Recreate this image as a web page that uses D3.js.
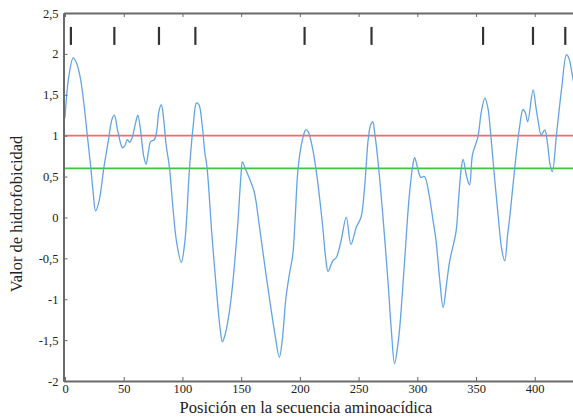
<!DOCTYPE html>
<html>
<head>
<meta charset="utf-8">
<script src="https://cdn.jsdelivr.net/npm/d3@7"></script>
<style>
  body { margin: 0; background: #fff; }
  svg text { font-family: "Liberation Serif", "DejaVu Serif", serif; fill: #222; }
</style>
</head>
<body>
<div id="chart"></div>
<script>
// residue position and hydrophobicity value
var positions = [0, 3, 7, 10, 13, 16, 19, 22, 24, 26, 29, 33, 37, 40, 42, 45, 49, 51, 53, 55,
    57, 60, 62, 64, 67, 69, 71, 73, 76, 78, 80, 82, 84, 86, 89, 92, 95, 99, 102, 106,
    109, 112, 114, 117, 119, 121, 125, 129, 132, 134, 136, 140, 143, 147, 150, 151, 154, 157, 161, 165,
    168, 174, 179, 182.5, 185, 188, 191, 194, 196, 198, 200, 203, 205, 207, 210, 212, 215, 219.5, 222, 224,
    228, 231, 235, 239.5, 243.5, 248, 252, 255, 258, 260, 262, 264, 266.5, 270.5, 275, 278, 280.6, 283, 285, 289,
    293, 296, 297.7, 300, 303, 306, 310, 313, 316, 319, 322, 325, 327.5, 333, 335, 337.5, 339, 342, 344.5, 347,
    351.5, 354.5, 357.5, 360, 362, 364.5, 368.7, 372, 374.4, 377, 379, 383, 387, 390, 392, 394, 398.6, 401, 403, 405.5,
    408.5, 411, 413, 415, 418.5, 423, 427, 429, 432, 436];
var hydro = [1.22, 1.7, 1.95, 1.88, 1.71, 1.4, 1.0, 0.6, 0.3, 0.08, 0.2, 0.6, 0.95, 1.2, 1.25, 1.05, 0.85, 0.88, 0.95, 0.92,
    0.97, 1.15, 1.25, 1.1, 0.75, 0.65, 0.8, 0.93, 0.95, 1.05, 1.3, 1.38, 1.2, 0.9, 0.6, 0.1, -0.3, -0.55, -0.3, 0.6,
    1.1, 1.4, 1.38, 1.1, 0.8, 0.6, -0.2, -0.9, -1.35, -1.52, -1.45, -1.15, -0.78, -0.1, 0.55, 0.68, 0.58, 0.48, 0.32, -0.05,
    -0.37, -0.98, -1.45, -1.71, -1.5, -1.0, -0.7, -0.45, 0.0, 0.52, 0.78, 1.0, 1.07, 1.05, 0.9, 0.75, 0.45, -0.12, -0.5, -0.66,
    -0.53, -0.49, -0.29, 0.0, -0.33, -0.12, 0.0, 0.35, 0.93, 1.12, 1.17, 1.0, 0.69, 0.05, -0.78, -1.4, -1.79, -1.6, -1.35, -0.57,
    0.24, 0.62, 0.73, 0.62, 0.49, 0.5, 0.28, 0.0, -0.29, -0.75, -1.1, -0.8, -0.54, -0.17, 0.2, 0.61, 0.71, 0.5, 0.4, 0.77,
    0.98, 1.29, 1.46, 1.35, 1.1, 0.69, 0.04, -0.4, -0.53, -0.2, 0.04, 0.61, 1.1, 1.32, 1.28, 1.17, 1.56, 1.35, 1.17, 1.01,
    1.07, 0.89, 0.65, 0.56, 1.01, 1.59, 1.99, 1.95, 1.74, 1.4];

// vertical markers drawn near the top
var markerPos = [5, 42, 80, 111, 204, 261, 356, 398.5, 426];

var redLevel = 1.0;
var greenLevel = 0.6;

var xTicks = [0, 50, 100, 150, 200, 250, 300, 350, 400];
var yTicks = [2.5, 2, 1.5, 1, 0.5, 0, -0.5, -1, -1.5, -2];
var yTickLabels = ["2,5", "2", "1,5", "1", "0,5", "0", "-0,5", "-1", "-1,5", "-2"];

var W = 573, H = 418;
var mLeft = 63.5, mTop = 13, mBottom = 381;
var pxPerUnit = 1.1743;
var xMin = -1.3, xMax = 440;

var svg = d3.select('#chart').append('svg')
    .attr('width', W)
    .attr('height', H);

var x = d3.scaleLinear().domain([xMin, xMax]).range([mLeft, mLeft + (xMax - xMin) * pxPerUnit]);
var y = d3.scaleLinear().domain([-2, 2.5]).range([mBottom, mTop]);

svg.append('clipPath').attr('id', 'plot-clip')
    .append('rect')
    .attr('x', mLeft).attr('y', mTop)
    .attr('width', x(xMax) - mLeft).attr('height', mBottom - mTop);

// threshold lines
svg.append('line')
    .attr('x1', mLeft).attr('x2', x(xMax))
    .attr('y1', y(redLevel)).attr('y2', y(redLevel))
    .attr('stroke', '#f26b6b').attr('stroke-width', 1.6);
svg.append('line')
    .attr('x1', mLeft).attr('x2', x(xMax))
    .attr('y1', y(greenLevel)).attr('y2', y(greenLevel))
    .attr('stroke', '#3fc43f').attr('stroke-width', 1.6);

// hydrophobicity profile
var pts = positions.map(function (p, i) { return [p, hydro[i]]; });
var line = d3.line()
    .x(function (d) { return x(d[0]); })
    .y(function (d) { return y(d[1]); })
    .curve(d3.curveCatmullRom.alpha(0.5));

svg.append('path')
    .datum(pts)
    .attr('clip-path', 'url(#plot-clip)')
    .attr('fill', 'none')
    .attr('stroke', '#62a4e4')
    .attr('stroke-width', 1.3)
    .attr('d', line);

// markers
svg.selectAll('.marker')
    .data(markerPos)
    .enter().append('line')
    .attr('class', 'marker')
    .attr('x1', function (d) { return x(d); })
    .attr('x2', function (d) { return x(d); })
    .attr('y1', y(2.33))
    .attr('y2', y(2.11))
    .attr('stroke', '#333')
    .attr('stroke-width', 2.2);

// axes
var axisColor = '#6a6a6a';
var xBottom = svg.append('g')
    .attr('transform', 'translate(0,' + mBottom + ')')
    .call(d3.axisBottom(x).tickValues(xTicks).tickSizeInner(-4).tickSizeOuter(0).tickPadding(3)
        .tickFormat(d3.format('d')));
var xTop = svg.append('g')
    .attr('transform', 'translate(0,' + mTop + ')')
    .call(d3.axisTop(x).tickValues(xTicks).tickSizeInner(-4).tickSizeOuter(0).tickFormat(''));
var yLeft = svg.append('g')
    .attr('transform', 'translate(' + mLeft + ',0)')
    .call(d3.axisLeft(y).tickValues(yTicks).tickSizeInner(-4).tickSizeOuter(0).tickPadding(5)
        .tickFormat(function (d, i) { return yTickLabels[i]; }));

[xBottom, xTop, yLeft].forEach(function (g) {
    g.select('.domain').attr('stroke', axisColor).attr('stroke-width', 2);
    g.selectAll('.tick line').attr('stroke', axisColor).attr('stroke-width', 1);
    g.selectAll('.tick text')
        .attr('fill', '#222')
        .style('font-family', '"Liberation Serif", serif')
        .style('font-size', '12.5px');
});

// axis titles
svg.append('text')
    .attr('x', 306)
    .attr('y', 413)
    .attr('text-anchor', 'middle')
    .style('font-size', '16.5px')
    .text('Posición en la secuencia aminoacídica');

svg.append('text')
    .attr('transform', 'translate(22,214) rotate(-90)')
    .attr('text-anchor', 'middle')
    .style('font-size', '16.5px')
    .text('Valor de hidrofobicidad');
</script>
</body>
</html>
